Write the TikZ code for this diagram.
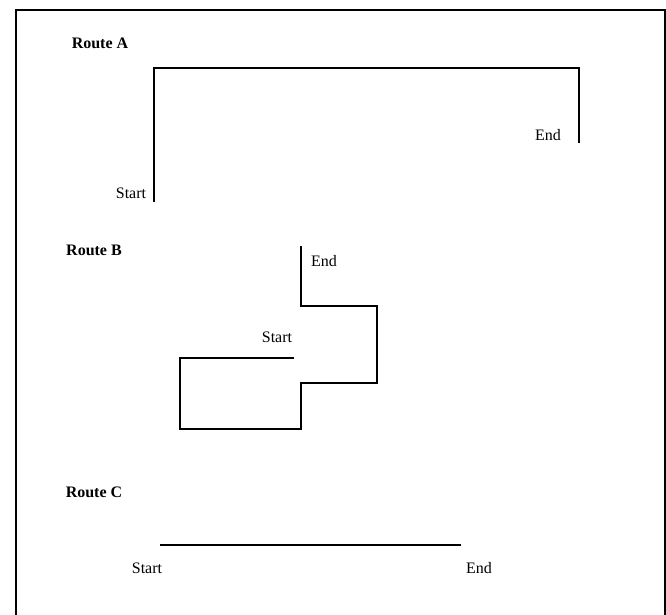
\documentclass[tikz,border=0pt]{standalone}
\usepackage{fontspec}
\setmainfont{Liberation Serif}
\begin{document}
\begin{tikzpicture}[x=1pt,y=-1pt,
  lbl/.style={inner sep=0pt,font=\fontsize{16}{19}\selectfont},
  ttl/.style={inner sep=0pt,font=\fontsize{16}{19}\selectfont\bfseries},
  route/.style={line width=2pt,line cap=butt,line join=miter},
  frame/.style={line width=1.6pt}]
\useasboundingbox (0,0) rectangle (666,615);
% frame
\coordinate (f1) at (16,616);
\coordinate (f2) at (16,10);
\coordinate (f3) at (665,10);
\coordinate (f4) at (665,616);
\draw[frame] (f1) -- (f2) -- (f3) -- (f4);
% Route A
\node[ttl] (ta) at (100,43) {Route A};
\coordinate (a0) at (153.5,202);
\coordinate (a1) at (153.5,68);
\coordinate (a2) at (579,68);
\coordinate (a3) at (579,143);
\draw[route] (a0) -- (a1) -- (a2) -- (a3);
\node[lbl] (as) at (131,193) {Start};
\node[lbl] (ae) at (548,135) {End};
% Route B
\node[ttl] (tb) at (94,250) {Route B};
\coordinate (b0) at (293.5,357.5);
\coordinate (b1) at (180,357.5);
\coordinate (b2) at (180,429);
\coordinate (b3) at (301,429);
\coordinate (b4) at (301,382.5);
\coordinate (b5) at (376.5,382.5);
\coordinate (b6) at (376.5,306);
\coordinate (b7) at (300.5,306);
\coordinate (b8) at (300.5,246);
\draw[route] (b0) -- (b1) -- (b2) -- (b3) -- (b4) -- (b5) -- (b6) -- (b7) -- (b8);
\node[lbl] (bs) at (277,337) {Start};
\node[lbl] (be) at (324,261) {End};
% Route C
\node[ttl] (tc) at (94,492) {Route C};
\coordinate (c0) at (160,544.5);
\coordinate (c1) at (461,544.5);
\draw[route] (c0) -- (c1);
\node[lbl] (cs) at (147,568) {Start};
\node[lbl] (ce) at (479,568) {End};
\end{tikzpicture}
\end{document}
